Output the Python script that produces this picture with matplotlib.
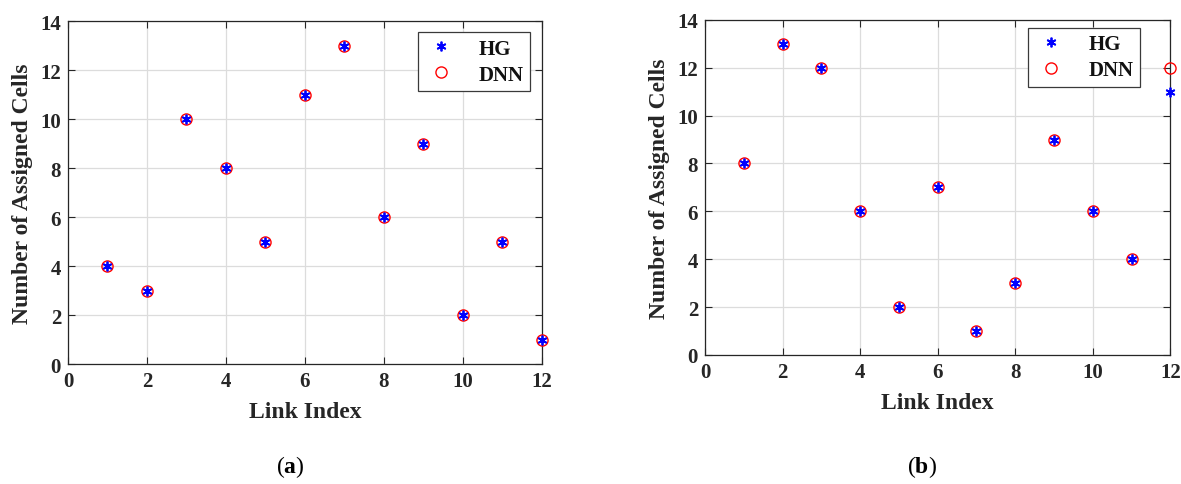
import matplotlib.pyplot as plt

links = list(range(1, 13))

hg_a = [4, 3, 10, 8, 5, 11, 13, 6, 9, 2, 5, 1]
dnn_a = [4, 3, 10, 8, 5, 11, 13, 6, 9, 2, 5, 1]

hg_b = [8, 13, 12, 6, 2, 7, 1, 3, 9, 6, 4, 11]
dnn_b = [8, 13, 12, 6, 2, 7, 1, 3, 9, 6, 4, 12]

xticks = [0, 2, 4, 6, 8, 10, 12]
yticks = [0, 2, 4, 6, 8, 10, 12, 14]

plt.rcParams["font.family"] = ["Liberation Serif", "DejaVu Serif"]
plt.rcParams["font.weight"] = "bold"
plt.rcParams["mathtext.fontset"] = "custom"
plt.rcParams["mathtext.rm"] = "Liberation Serif"
plt.rcParams["mathtext.bf"] = "Liberation Serif:bold"


def draw_panel(ax, hg, dnn, leg_anchor):
    ax.plot(links, hg, linestyle="none", marker=(6, 2, 0), color="blue",
            markersize=7, markeredgewidth=1.3, label="HG", clip_on=False,
            zorder=4)
    ax.plot(links, dnn, linestyle="none", marker="o", markerfacecolor="none",
            markeredgecolor="red", markersize=8, markeredgewidth=1.0,
            label="DNN", clip_on=False, zorder=3)
    ax.set_xlim(0, 12)
    ax.set_ylim(0, 14)
    ax.set_xticks(xticks)
    ax.set_yticks(yticks)
    ax.grid(True, color="#dcdcdc", linewidth=0.9)
    ax.set_axisbelow(True)
    ax.tick_params(direction="in", top=True, right=True, length=5,
                   labelsize=15, colors="#262626", width=0.8, pad=5)
    for s in ax.spines.values():
        s.set_color("#262626")
        s.set_linewidth(0.9)
    ax.set_xlabel("Link Index", fontsize=17, fontweight="bold",
                  color="#262626", labelpad=7)
    ax.set_ylabel("Number of Assigned Cells", fontsize=17, fontweight="bold",
                  color="#262626", labelpad=5)
    leg = ax.legend(loc="upper right", fontsize=15, fancybox=False,
                    edgecolor="#3a3a3a", framealpha=1, borderpad=0.3,
                    handletextpad=1.0, labelspacing=0.3, handlelength=1.6,
                    borderaxespad=0, bbox_to_anchor=leg_anchor)
    leg.get_frame().set_linewidth(0.9)
    for t in leg.get_texts():
        t.set_color("#111111")


fig = plt.figure(figsize=(11.81, 4.85), dpi=100)
ax1 = fig.add_axes([0.0576, 0.247, 0.401, 0.707])
ax2 = fig.add_axes([0.597, 0.266, 0.394, 0.691])

draw_panel(ax1, hg_a, dnn_a, (0.975, 0.968))
draw_panel(ax2, hg_b, dnn_b, (0.935, 0.976))

fig.text(0.246, 0.038, r"($\mathbf{a}$)", fontsize=17, fontweight="normal",
         ha="center", va="center")
fig.text(0.781, 0.038, r"($\mathbf{b}$)", fontsize=17, fontweight="normal",
         ha="center", va="center")

fig.savefig("out.png", dpi=100)
